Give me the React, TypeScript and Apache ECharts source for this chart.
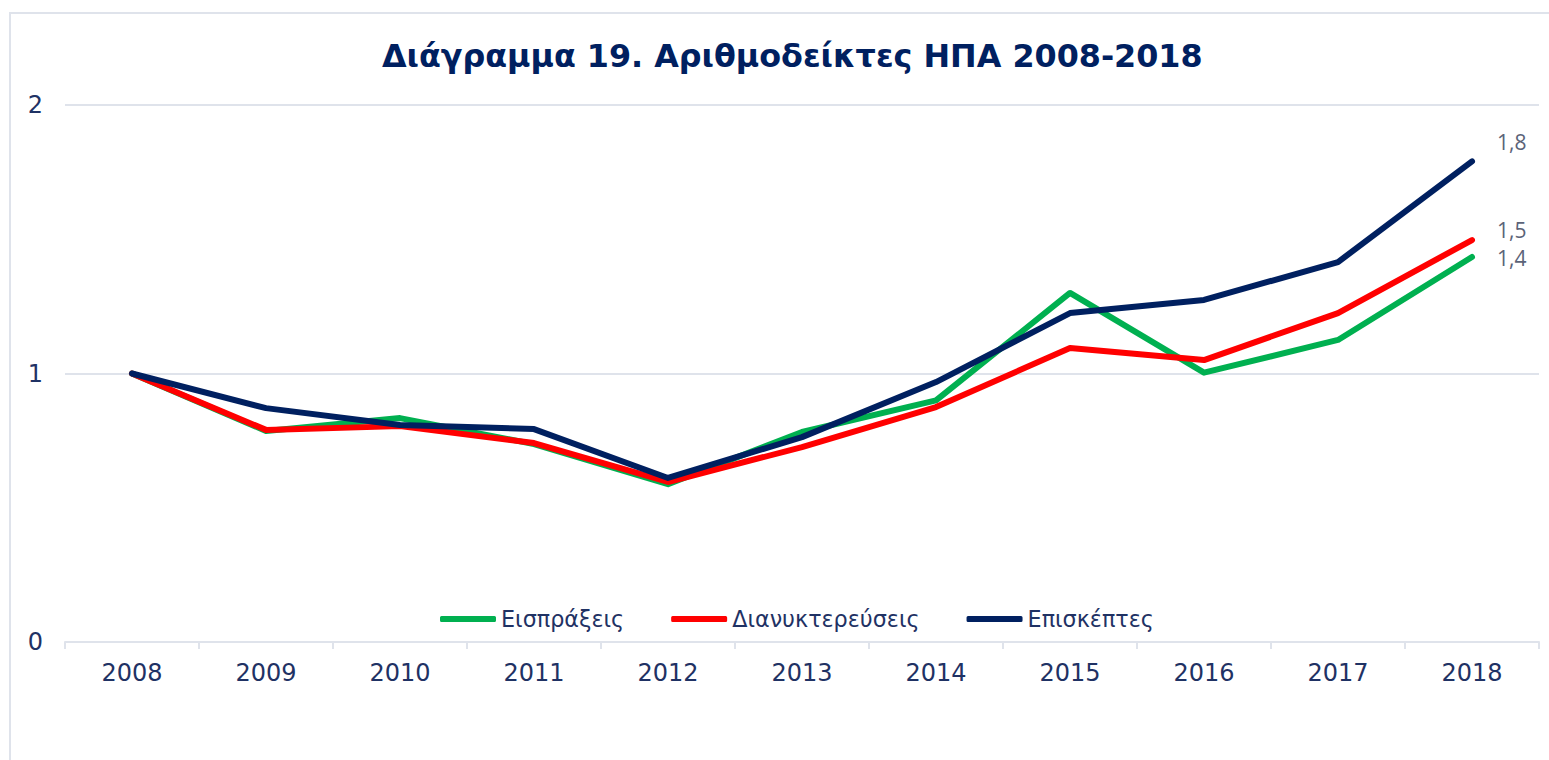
import React, { useEffect, useRef } from "react";
import * as echarts from "echarts";

const years = ["2008", "2009", "2010", "2011", "2012", "2013", "2014", "2015", "2016", "2017", "2018"];
const eispraxeis = [1.0, 0.786, 0.834, 0.737, 0.588, 0.782, 0.9, 1.3, 1.003, 1.125, 1.434];
const dianyktereuseis = [1.0, 0.79, 0.804, 0.741, 0.596, 0.726, 0.875, 1.095, 1.05, 1.225, 1.497];
const episkeptes = [1.0, 0.871, 0.808, 0.793, 0.611, 0.763, 0.968, 1.225, 1.274, 1.415, 1.79];
const seriesNames = ["Εισπράξεις", "Διανυκτερεύσεις", "Επισκέπτες"];
const seriesColors = ["#00b050", "#ff0000", "#002060"];
const yTicks = [0, 1, 2];

const NAVY = "#1f3264";

export default function App() {
  const ref = useRef<HTMLDivElement>(null);
  useEffect(() => {
    const chart = echarts.init(ref.current!, null, { renderer: "svg" });
    const allSeries = [eispraxeis, dianyktereuseis, episkeptes];
    const offsets = [1, -10, -19];
    chart.setOption({
      animation: false,
      backgroundColor: "#ffffff",
      title: {
        text: "Διάγραμμα 19. Αριθμοδείκτες ΗΠΑ 2008-2018",
        left: 377,
        top: 34,
        textStyle: {
          fontFamily: "DejaVu Sans",
          fontWeight: "bold",
          fontSize: 31.8,
          color: "#002060",
        },
      },
      graphic: [
        {
          type: "rect",
          shape: { x: 10, y: 13, width: 1560, height: 800 },
          style: { fill: "none", stroke: "#dfe3eb", lineWidth: 2 },
          silent: true,
        },
      ],
      legend: {
        data: seriesNames,
        top: 603,
        left: 435,
        itemWidth: 56,
        itemHeight: 6,
        itemGap: 47,
        icon: "roundRect",
        textStyle: {
          fontFamily: "DejaVu Sans",
          fontSize: 22.3,
          color: NAVY,
        },
      },
      grid: { left: 65, right: 10, top: 105, bottom: 118, containLabel: false },
      xAxis: {
        type: "category",
        data: years,
        boundaryGap: true,
        axisLine: { show: true, lineStyle: { color: "#dfe3eb", width: 2 } },
        axisTick: { show: true, length: 7, lineStyle: { color: "#dfe3eb", width: 2 } },
        axisLabel: {
          color: NAVY,
          fontFamily: "DejaVu Sans",
          fontSize: 24,
          margin: 19,
        },
      },
      yAxis: {
        type: "value",
        min: yTicks[0],
        max: yTicks[yTicks.length - 1],
        interval: 1,
        axisLine: { show: false },
        axisTick: { show: false },
        splitLine: { lineStyle: { color: "#dfe3eb", width: 2 } },
        axisLabel: {
          color: NAVY,
          fontFamily: "DejaVu Sans",
          fontSize: 24,
          margin: 22,
        },
      },
      series: allSeries.map((vals, i) => ({
        name: seriesNames[i],
        type: "line",
        data: vals,
        symbol: "none",
        color: seriesColors[i],
        lineStyle: { width: 6, color: seriesColors[i], cap: "round", join: "round" },
        endLabel: {
          show: true,
          offset: [17, offsets[i]],
          formatter: (p: any) => Number(p.value).toFixed(1).replace(".", ","),
          color: "#5b6378",
          fontSize: 21,
          fontFamily: "Open Sans",
        },
        z: i === 2 ? 4 : i === 1 ? 3 : 2,
      })),
    });
    return () => chart.dispose();
  }, []);
  return (
    <div
      ref={ref}
      style={{ position: "fixed", left: 0, top: 0, width: 1549, height: 760 }}
    />
  );
}
